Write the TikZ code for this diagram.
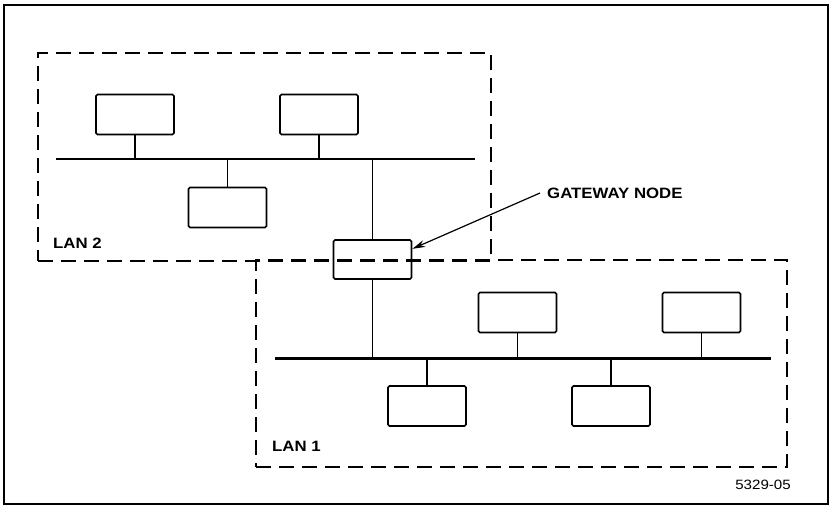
\documentclass[tikz,border=0pt]{standalone}
\usepackage{fontspec}
\newfontfamily\lblfont{Liberation Sans}[FakeStretch=1.12]
\usetikzlibrary{arrows.meta}
\tikzset{
  x=1pt, y=-1pt,
  station/.style={draw, line width=1.7pt, rounded corners=1.5pt, minimum width=78pt, minimum height=40pt, inner sep=0pt},
  bus/.style={line width=2.4pt},
  tap/.style={line width=1.2pt},
  lanbox/.style={draw, line width=2pt, dash pattern=on 15pt off 8pt, inner sep=0pt},
  lbl/.style={font=\lblfont\fontsize{15}{17}\selectfont\bfseries, inner sep=0pt},
  idlbl/.style={font=\lblfont\fontsize{13.5}{15}\selectfont, inner sep=0pt},
  pointer/.style={line width=1.2pt, -{Stealth[length=13pt, width=7pt]}},
  frame/.style={line width=1.1pt}
}
\begin{document}
\begin{tikzpicture}
\useasboundingbox (0,0) rectangle (830,507);
% outer frame
\draw[frame] (4,5) rectangle (828,504);
\draw[line width=2.4pt] (4,5) -- (828,5);
% LAN boxes (dashed)
\node[lanbox, minimum width=453pt, minimum height=208pt] (lan2) at (264.5,157) {};
\node[lanbox, minimum width=531pt, minimum height=207pt] (lan1) at (521.5,363.5) {};
% buses
\coordinate (bus2w) at (56,159);
\coordinate (bus2e) at (475,159);
\coordinate (bus1w) at (275,358.5);
\coordinate (bus1e) at (771,358.5);
\draw[bus] (bus2w) -- (bus2e);
\draw[bus] (bus1w) -- (bus1e);
% LAN 2 stations
\node[station] (a1) at (135,114.5) {};
\node[station] (a2) at (319,114.5) {};
\node[station] (a3) at (227.5,207.5) {};
% gateway
\node[station, minimum height=39pt] (gw) at (372.5,259.5) {};
% LAN 1 stations
\node[station] (b1) at (517.5,312.5) {};
\node[station] (b2) at (701.5,312.5) {};
\node[station] (b3) at (427,406) {};
\node[station] (b4) at (611,406) {};
% taps
\draw[tap] (a1.south) -- (a1.south |- bus2w);
\draw[tap] (a2.south) -- (a2.south |- bus2w);
\draw[tap] (a3.north) -- (a3.north |- bus2w);
\draw[tap] (gw.north) -- (gw.north |- bus2w);
\draw[tap] (gw.south) -- (gw.south |- bus1w);
\draw[tap] (b1.south) -- (b1.south |- bus1w);
\draw[tap] (b2.south) -- (b2.south |- bus1w);
\draw[tap] (b3.north) -- (b3.north |- bus1w);
\draw[tap] (b4.north) -- (b4.north |- bus1w);
% labels
\node[lbl, anchor=west] (lan2lbl) at (53,243) {LAN 2};
\node[lbl, anchor=west] (lan1lbl) at (272,446) {LAN 1};
\node[lbl, anchor=west] (gwlbl) at (547,193) {GATEWAY NODE};
\node[idlbl, anchor=east] (figid) at (791,485) {5329-05};
% pointer
\draw[pointer] ([xshift=-7pt]gwlbl.west) -- (gw.15);
\end{tikzpicture}
\end{document}
